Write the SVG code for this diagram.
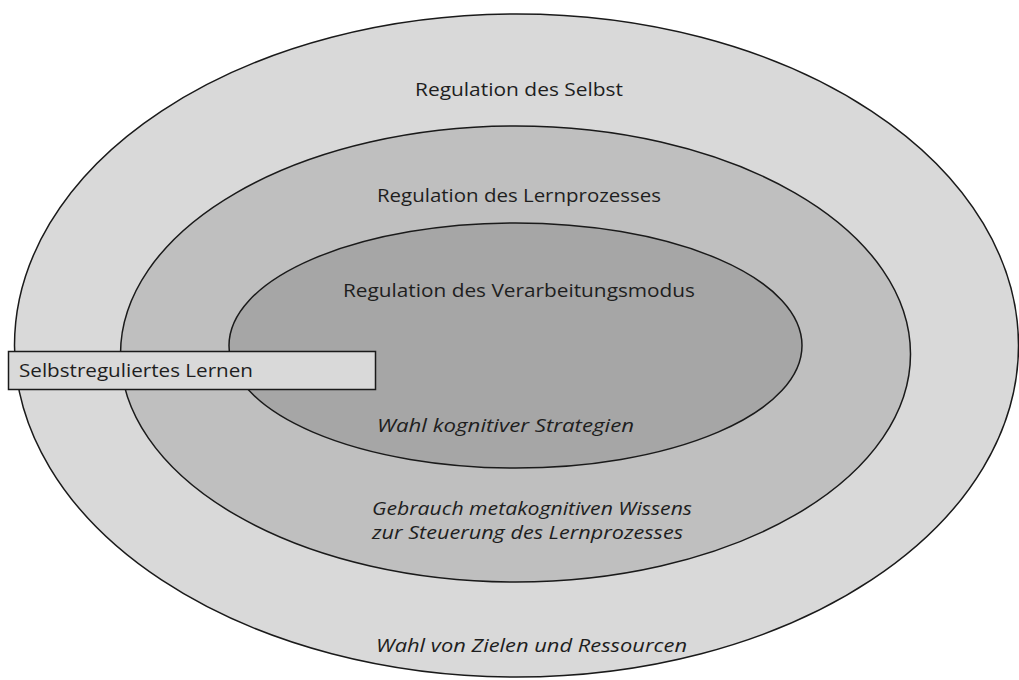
<svg xmlns="http://www.w3.org/2000/svg" width="1019" height="680" viewBox="0 0 1019 680">
<style>
.e{stroke:#1a1a1a;stroke-width:1.5}
.t{font-family:"Open Sans","Liberation Sans",sans-serif;font-size:18.5px;fill:#1e1e1e}
.i{font-style:italic}
</style>
<rect width="1019" height="680" fill="#ffffff"/>
<g id="outer">
<ellipse class="e" cx="516.5" cy="345.5" rx="502" ry="331.5" fill="#d9d9d9"/>
<text class="t" x="519" y="96" text-anchor="middle" textLength="208" lengthAdjust="spacingAndGlyphs">Regulation des Selbst</text>
<text class="t i" x="376" y="652" textLength="311" lengthAdjust="spacingAndGlyphs">Wahl von Zielen und Ressourcen</text>
</g>
<g id="middle">
<ellipse class="e" cx="515.5" cy="354" rx="395" ry="228" fill="#bfbfbf"/>
<text class="t" x="519" y="202" text-anchor="middle" textLength="284" lengthAdjust="spacingAndGlyphs">Regulation des Lernprozesses</text>
<text class="t i" x="372" y="515" textLength="320" lengthAdjust="spacingAndGlyphs">Gebrauch metakognitiven Wissens</text>
<text class="t i" x="372" y="539" textLength="311" lengthAdjust="spacingAndGlyphs">zur Steuerung des Lernprozesses</text>
</g>
<g id="inner">
<ellipse class="e" cx="515.5" cy="345.5" rx="286.5" ry="122.5" fill="#a6a6a6"/>
<text class="t" x="519" y="297" text-anchor="middle" textLength="352" lengthAdjust="spacingAndGlyphs">Regulation des Verarbeitungsmodus</text>
<text class="t i" x="377" y="432" textLength="257" lengthAdjust="spacingAndGlyphs">Wahl kognitiver Strategien</text>
</g>
<g id="label">
<rect class="e" x="8.5" y="351.5" width="367" height="38" fill="#d9d9d9"/>
<text class="t" x="19" y="377" textLength="234" lengthAdjust="spacingAndGlyphs">Selbstreguliertes Lernen</text>
</g>
<g id="connectors"/>
</svg>
